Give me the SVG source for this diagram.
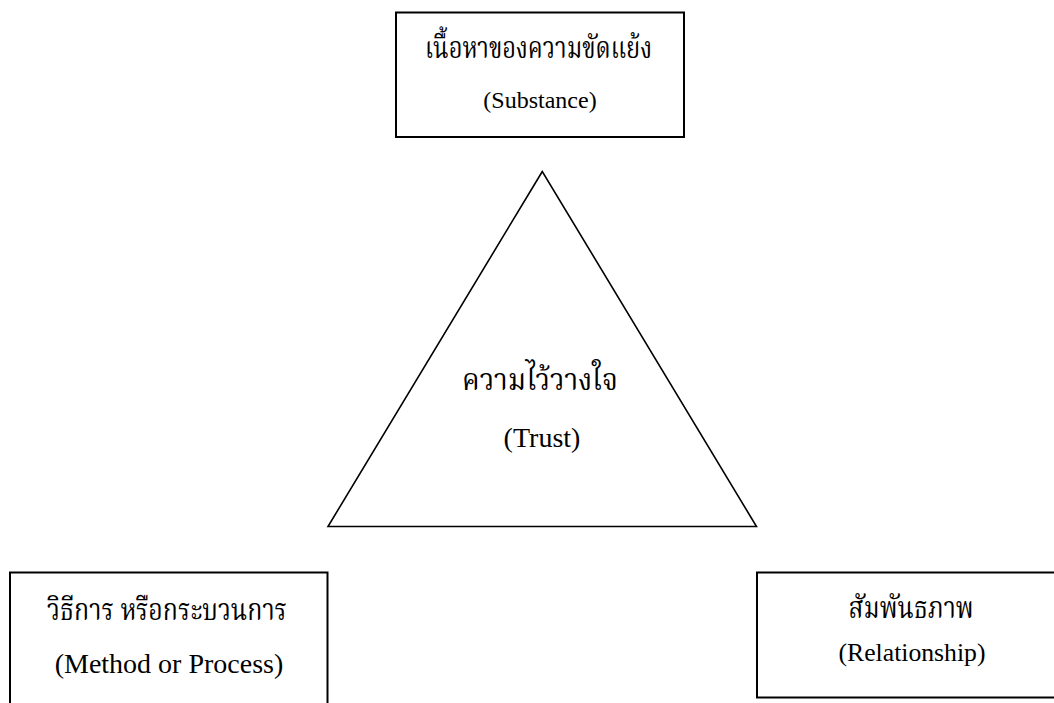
<svg xmlns="http://www.w3.org/2000/svg" width="1054" height="703" viewBox="0 0 1054 703">
<style>
.box{fill:#fff;stroke:#000;stroke-width:2}
.tri{fill:#fff;stroke:#000;stroke-width:1.6}
.th{font-family:"Norasi","Kinnari","Noto Serif Thai","Noto Sans Thai Looped","Liberation Serif","Noto Sans Thai",serif;fill:#000;text-anchor:middle}
.en{font-family:"Liberation Serif","Times New Roman",serif;fill:#000;text-anchor:middle}
</style>
<rect width="1054" height="703" fill="#fff"/>
<g id="connectors">
<polygon class="tri" points="542.3,171.5 328,526.5 756.5,526.5"/>
</g>
<g id="node-substance">
<rect class="box" x="396" y="12.5" width="288" height="124.5"/>
<text class="th" x="538.5" y="58" font-size="30" textLength="227" lengthAdjust="spacingAndGlyphs">เนื้อหาของความขัดแย้ง</text>
<text class="en" x="540" y="108" font-size="24">(Substance)</text>
</g>
<g id="node-trust">
<text class="th" x="540" y="390" font-size="30" textLength="156" lengthAdjust="spacingAndGlyphs">ความไว้วางใจ</text>
<text class="en" x="542" y="447" font-size="28">(Trust)</text>
</g>
<g id="node-method">
<rect class="box" x="10" y="572.5" width="317.5" height="140"/>
<text class="th" x="167" y="620" font-size="30" textLength="240" lengthAdjust="spacingAndGlyphs">วิธีการ หรือกระบวนการ</text>
<text class="en" x="169" y="673" font-size="28">(Method or Process)</text>
</g>
<g id="node-relationship">
<rect class="box" x="757" y="572.5" width="310" height="125"/>
<text class="th" x="911" y="618" font-size="30" textLength="125" lengthAdjust="spacingAndGlyphs">สัมพันธภาพ</text>
<text class="en" x="912" y="661" font-size="25.7">(Relationship)</text>
</g>
</svg>
